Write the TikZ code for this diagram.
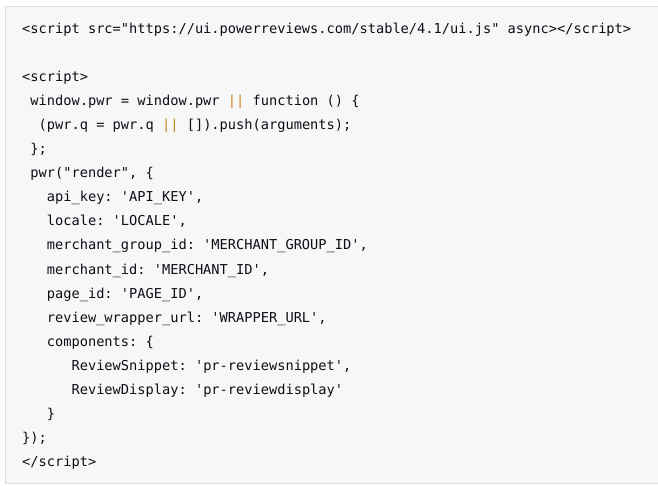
\documentclass[tikz,border=0pt]{standalone}
\usepackage{fontspec}
\setmonofont{DejaVu Sans Mono}
\usepackage{xcolor}
\usetikzlibrary{positioning}
\definecolor{codebg}{HTML}{F7F7F7}
\definecolor{codeframe}{HTML}{DDDDDD}
\definecolor{codetext}{HTML}{0E0E18}
\definecolor{pipe}{HTML}{C8861E}
\tikzset{code/.style={anchor=base west,inner sep=0pt,text=codetext,font=\fontsize{13.67}{16}\ttfamily},panel/.style={fill=codebg,draw=codeframe,line width=1pt}}
\newcommand{\orpipe}{\textcolor{pipe}{||}}
\begin{document}
\begin{tikzpicture} [x=1pt,y=-1pt]
\def\cw{8.23}
\path[fill=white,use as bounding box] (0,0) rectangle (658,486);
\draw[panel] (5.5,6.5) rectangle (662,483.5);

\node (c1) at (22,34)[code]{<script src="https://ui.powerreviews.com/stable/4.1/ui.js" async></script>};
\node (c3) at (22,82)[code]{<script>};
\node (c4) at ({22+1*\cw},106)[code]{window.pwr = window.pwr \orpipe{} function () \{};
\node (c5) at ({22+2*\cw},130)[code]{(pwr.q = pwr.q \orpipe{} []).push(arguments);};
\node (c6) at ({22+1*\cw},154)[code]{\};};
\node (c7) at ({22+1*\cw},178)[code]{pwr("render", \{};
\node (c8) at ({22+3*\cw},202)[code]{api\_key: 'API\_KEY',};
\node (c9) at ({22+3*\cw},226)[code]{locale: 'LOCALE',};
\node (c10) at ({22+3*\cw},250)[code]{merchant\_group\_id: 'MERCHANT\_GROUP\_ID',};
\node (c11) at ({22+3*\cw},274)[code]{merchant\_id: 'MERCHANT\_ID',};
\node (c12) at ({22+3*\cw},298)[code]{page\_id: 'PAGE\_ID',};
\node (c13) at ({22+3*\cw},322)[code]{review\_wrapper\_url: 'WRAPPER\_URL',};
\node (c14) at ({22+3*\cw},346)[code]{components: \{};
\node (c15) at ({22+6*\cw},370)[code]{ReviewSnippet: 'pr-reviewsnippet',};
\node (c16) at ({22+6*\cw},394)[code]{ReviewDisplay: 'pr-reviewdisplay'};
\node (c17) at ({22+3*\cw},418)[code]{\}};
\node (c18) at (22,442)[code]{\});};
\node (c19) at (22,466)[code]{</script>};
\end{tikzpicture}
\end{document}
